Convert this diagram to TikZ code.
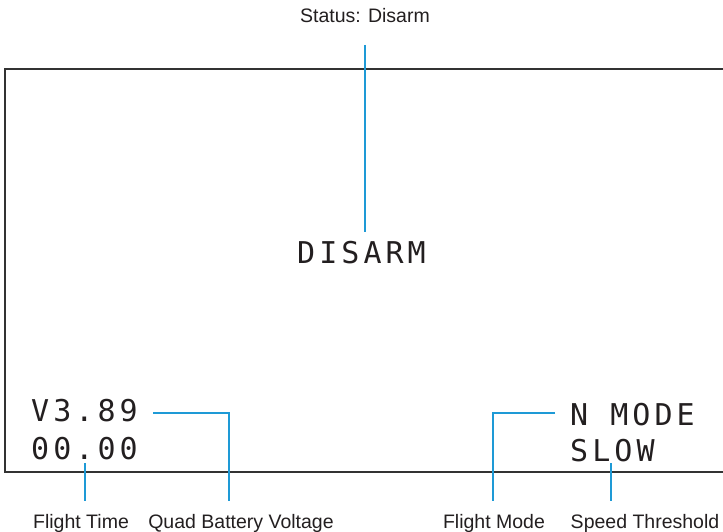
\documentclass[tikz,border=0pt]{standalone}
\usepackage{fontspec}
\setmainfont{Liberation Sans}
\newfontfamily\lcdfont[LetterSpace=13.5]{DejaVu Sans Mono}
\definecolor{leadblue}{HTML}{1E9AD6}
\definecolor{ink}{HTML}{231F20}
\definecolor{frame}{HTML}{333333}
\begin{document}
\begin{tikzpicture}[x=1pt,y=-1pt,
  lead/.style={draw=leadblue,line width=1.8pt},
  lbl/.style={inner sep=0pt,text=ink,font=\fontsize{19.5}{21}\selectfont},
  lcd/.style={inner sep=0pt,anchor=base west,text=ink,font=\lcdfont\fontsize{30}{32}\selectfont}]
\useasboundingbox (0,0) rectangle (723,532);
\clip (0,0) rectangle (723,532);
\fill[white] (0,0) rectangle (723,532);
% screen frame
\draw[frame,line width=1.1pt] (5,69) rectangle (740,472);
% screen texts
\node[lcd] (disarm) at (297,263) {DISARM};
\node[lcd] (volt) at (31,421) {V3.89};
\node[lcd] (time) at (31,459) {00.00};
\node[lcd] (mode) at (570,425) {N MODE};
\node[lcd] (speed) at (570,461) {SLOW};
% labels
\node[lbl] (status) at (365,16) {Status: Disarm};
\node[lbl] (lt) at (81,523) {Flight Time};
\node[lbl] (lv) at (241,523) {Quad Battery Voltage};
\node[lbl] (lm) at (494,523) {Flight Mode};
\node[lbl] (ls) at (645,523) {Speed Threshold};
% connector ends
\coordinate (s1) at (365,45);
\coordinate (s2) at (365,232);
\coordinate (t1) at (85,463);
\coordinate (t2) at (85,501);
\coordinate (v1) at (153,413);
\coordinate (v2) at (229,501);
\coordinate (m1) at (555,413);
\coordinate (m2) at (493,501);
\coordinate (p1) at (611,463);
\coordinate (p2) at (611,501);
% connectors
\draw[lead] (s1) -- (s2);
\draw[lead] (t1) -- (t2);
\draw[lead] (v1) -| (v2);
\draw[lead] (m1) -| (m2);
\draw[lead] (p1) -- (p2);
\end{tikzpicture}
\end{document}
